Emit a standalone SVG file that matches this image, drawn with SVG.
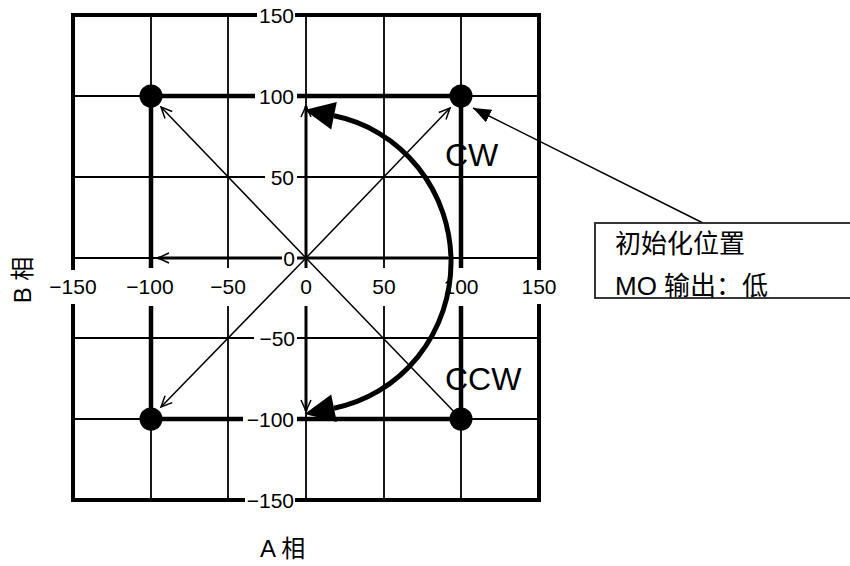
<svg xmlns="http://www.w3.org/2000/svg" width="850" height="566" viewBox="0 0 850 566">
<style>
.grid{stroke:#000;stroke-width:1.8;fill:none}
.frame{stroke:#000;stroke-width:4;fill:none;stroke-linecap:square}
.thick{stroke:#000;stroke-width:4.5;fill:none}
.axis{stroke:#000;stroke-width:3;fill:none}
.thin{stroke:#000;stroke-width:1.5;fill:none}
.num{font-family:"Liberation Sans",Arial,sans-serif;font-size:21px;fill:#000}
.lbl{font-family:"Liberation Sans","Noto Sans CJK SC",sans-serif;fill:#000}
.dot{fill:#000}
</style>
<defs>
<marker id="open" markerUnits="userSpaceOnUse" markerWidth="14" markerHeight="12" refX="12" refY="6" orient="auto"><path d="M1,1 L12,6 L1,11" fill="none" stroke="#000" stroke-width="1.5"/></marker>
<marker id="solid" markerUnits="userSpaceOnUse" markerWidth="20" markerHeight="14" refX="18" refY="7" orient="auto"><path d="M0,0 L18,7 L0,14 Z" fill="#000"/></marker>
</defs>
<g id="grid">
<path class="grid" d="M151,15 V268 M151,306 V500 M228,15 V268 M228,306 V500 M306,15 V268 M306,306 V500 M384,15 V268 M384,306 V500 M461,15 V268 M461,306 V500"/>
<path class="grid" d="M73,96 H255 M297,96 H539 M73,177 H265 M297,177 H539 M73,258 H282 M297,258 H539 M73,338 H254 M297,338 H539 M73,419 H243 M297,419 H539"/>
<path class="frame" d="M73,15 V268 M73,306 V500 M539,15 V268 M539,306 V500 M73,15 H255 M297,15 H539 M73,500 H243 M297,500 H539"/>
</g>
<g id="square">
<path class="thick" d="M151,96 H255 M297,96 H461 M461,96 V268 M461,306 V419 M461,419 H297 M243,419 H151 M151,419 V306 M151,268 V96"/>
</g>
<g id="ticks">
<text class="num" x="294" y="23" text-anchor="end">150</text>
<text class="num" x="294" y="104" text-anchor="end">100</text>
<text class="num" x="294" y="185" text-anchor="end">50</text>
<text class="num" x="295" y="266" text-anchor="end">0</text>
<text class="num" x="295" y="346" text-anchor="end">−50</text>
<text class="num" x="294" y="427" text-anchor="end">−100</text>
<text class="num" x="294" y="508" text-anchor="end">−150</text>
<text class="num" x="73" y="294" text-anchor="middle">−150</text>
<text class="num" x="150" y="294" text-anchor="middle">−100</text>
<text class="num" x="228" y="294" text-anchor="middle">−50</text>
<text class="num" x="306" y="294" text-anchor="middle">0</text>
<text class="num" x="384" y="294" text-anchor="middle">50</text>
<text class="num" x="461" y="294" text-anchor="middle">100</text>
<text class="num" x="539" y="294" text-anchor="middle">150</text>
</g>
<g id="connectors">
<path class="axis" d="M306,258 H297"/>
<path class="axis" d="M282,258 H158" marker-end="url(#open)"/>
<path class="axis" d="M306,258 H448"/>
<path class="axis" d="M306,258 V106" marker-end="url(#open)"/>
<path class="axis" d="M306,258 V268"/>
<path class="axis" d="M306,306 V411" marker-end="url(#open)"/>
<path class="thin" d="M306,258 L161,107" marker-end="url(#open)"/>
<path class="thin" d="M306,258 L450,108" marker-end="url(#open)"/>
<path class="thin" d="M306,258 L161,407" marker-end="url(#open)"/>
<path class="thin" d="M306,258 L461,419"/>
<path d="M334,115.8 A145 149 0 0 1 334,408.2" fill="none" stroke="#000" stroke-width="5"/>
<polygon points="304.6,109.9 336.8,102.1 331.2,129.5" fill="#000"/>
<polygon points="304.6,414.1 336.8,421.9 331.2,394.5" fill="#000"/>
<path class="thin" d="M703,223 L473,108" marker-end="url(#solid)"/>
</g>
<g id="dot-ul"><circle class="dot" cx="151" cy="96" r="11.5"/></g>
<g id="dot-ur"><circle class="dot" cx="461" cy="96" r="11.5"/></g>
<g id="dot-ll"><circle class="dot" cx="151" cy="419" r="11.5"/></g>
<g id="dot-lr"><circle class="dot" cx="461" cy="419" r="11.5"/></g>
<g id="label-cw"><text class="lbl" x="445" y="166" font-size="32">CW</text></g>
<g id="label-ccw"><text class="lbl" x="445" y="390" font-size="32">CCW</text></g>
<g id="note-box">
<rect x="595" y="223" width="270" height="75" fill="#fff" stroke="#222" stroke-width="1.8"/>
<text class="lbl" x="615" y="253" font-size="26">初始化位置</text>
<text class="lbl" x="615" y="295" font-size="26">MO 输出：低</text>
</g>
<g id="axis-a"><text class="lbl" x="260" y="557" font-size="24">A 相</text></g>
<g id="axis-b"><text class="lbl" transform="translate(31,280) rotate(-90)" text-anchor="middle" font-size="24">B 相</text></g>
</svg>
